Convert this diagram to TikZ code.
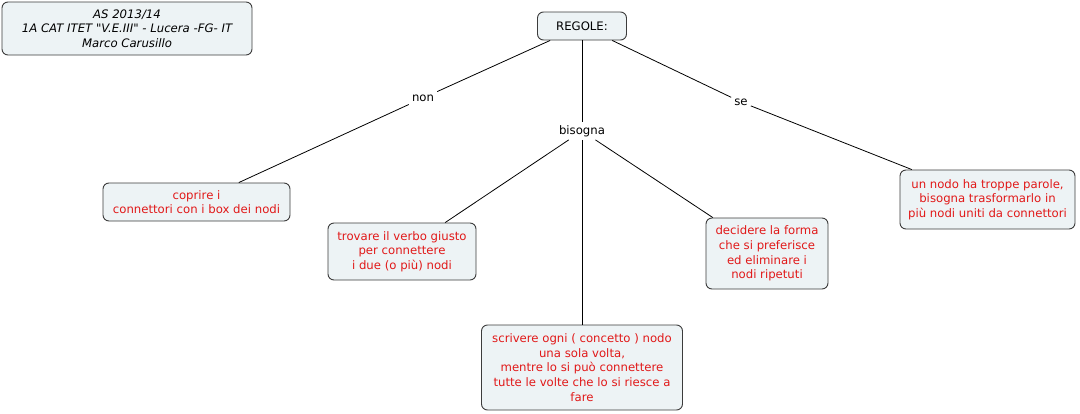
\documentclass[tikz,border=0pt]{standalone}
\usepackage{fontspec}
\setmainfont{DejaVu Sans}
\definecolor{boxfill}{RGB}{237,243,245}
\definecolor{boxline}{RGB}{60,60,60}
\definecolor{idea}{RGB}{225,25,25}
\tikzset{
  concetto/.style={draw=boxline,fill=boxfill,rounded corners=6pt,line width=.9pt,
    align=center,inner sep=2pt,text=idea,font=\fontsize{11.7}{14.6}\selectfont},
  legame/.style={fill=white,inner sep=3pt,font=\fontsize{11.7}{13}\selectfont},
  ramo/.style={line width=.8pt}
}
\begin{document}
\begin{tikzpicture}[x=1pt,y=-1pt]
  \useasboundingbox (0,0) rectangle (1080,413);
  \node[concetto,text=black,minimum width=250,minimum height=53,font=\fontsize{11.7}{14.6}\selectfont\itshape] (info) at (127,28.5)
    {AS 2013/14\\1A CAT ITET \textquotedbl V.E.III\textquotedbl{} - Lucera -FG- IT\\Marco Carusillo};
  \node[concetto,text=black,minimum width=89,minimum height=28] (regole) at (582,26) {REGOLE:};
  \node[legame] (non) at (423,98) {non};
  \node[legame] (bisogna) at (582,131) {bisogna};
  \node[legame] (se) at (741,102) {se};
  \node[concetto,minimum width=187,minimum height=38] (coprire) at (196.5,202) {coprire i\\connettori con i box dei nodi};
  \node[concetto,minimum width=148,minimum height=57] (trovare) at (402,251.5) {trovare il verbo giusto\\per connettere\\i due (o più) nodi};
  \node[concetto,minimum width=122,minimum height=71] (decidere) at (767,253.5) {decidere la forma\\che si preferisce\\ed eliminare i\\nodi ripetuti};
  \node[concetto,minimum width=175,minimum height=59] (troppe) at (987.5,199.5) {un nodo ha troppe parole,\\bisogna trasformarlo in\\più nodi uniti da connettori};
  \node[concetto,minimum width=201,minimum height=85] (scrivere) at (582,367.5) {scrivere ogni ( concetto ) nodo\\una sola volta,\\mentre lo si può connettere\\tutte le volte che lo si riesce a\\fare};
  % rami
  \draw[ramo] (regole) -- (non) -- (coprire);
  \draw[ramo] (regole) -- (bisogna);
  \draw[ramo] (regole) -- (se) -- (troppe);
  \draw[ramo] (bisogna) -- (trovare);
  \draw[ramo] (bisogna) -- (scrivere);
  \draw[ramo] (bisogna) -- (decidere);
\end{tikzpicture}
\end{document}
